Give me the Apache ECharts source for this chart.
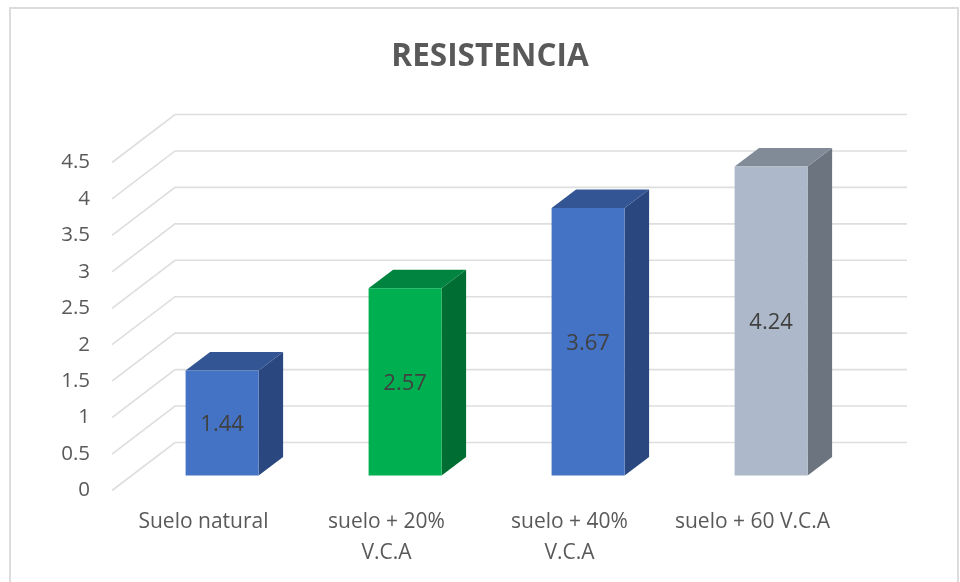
<!DOCTYPE html>
<html>
<head>
<meta charset="utf-8">
<style>html,body{margin:0;padding:0;background:#fff}#c{width:960px;height:582px}</style>
<script src="https://cdn.jsdelivr.net/npm/echarts@6/dist/echarts.min.js"></script>
</head>
<body>
<div id="c"></div>
<script>
const titleText = 'RESISTENCIA';
const categories = ['Suelo natural', 'suelo + 20%\nV.C.A', 'suelo + 40%\nV.C.A', 'suelo + 60 V.C.A'];
const values = [1.44, 2.57, 3.67, 4.24];
const frontColors = ['#4472C4', '#00B050', '#4472C4', '#ADB9CA'];
const topColors = ['#335593', '#008440', '#335593', '#818B97'];
const sideColors = ['#2A4780', '#006E32', '#2A4780', '#6C7480'];
const gridTicks = [0, 0.5, 1, 1.5, 2, 2.5, 3, 3.5, 4, 4.5];

const FONT = '"Open Sans", sans-serif';
const WALL = { dx: 63, dy: -48, front: 0 };
const BAR = { dx: 18.6, dy: -15, depthX: 24.5, depthY: -18.5, width: 73 };

function renderGrid(params, api) {
  const p = api.coord([0, api.value(1)]);
  const cs = params.coordSys;
  const y0 = p[1] + WALL.front;
  return {
    type: 'polyline',
    silent: true,
    shape: { points: [[cs.x, y0], [cs.x + WALL.dx, y0 + WALL.dy], [cs.x + cs.width + WALL.dx, y0 + WALL.dy]] },
    style: { fill: null, stroke: '#DEDEDE', lineWidth: 1.6 }
  };
}

function renderBar(params, api) {
  const i = api.value(0);
  const top = api.coord([i, api.value(1)]);
  const base = api.coord([i, 0]);
  const cx = top[0] + BAR.dx;
  const l = cx - BAR.width / 2, r = cx + BAR.width / 2;
  const t = top[1] + BAR.dy, b = base[1] + BAR.dy;
  const dx = BAR.depthX, dy = BAR.depthY;
  return {
    type: 'group',
    children: [
      { type: 'polygon', shape: { points: [[r, t], [r + dx, t + dy], [r + dx, b + dy], [r, b]] }, style: { fill: sideColors[i] } },
      { type: 'polygon', shape: { points: [[l, t], [l + dx, t + dy], [r + dx, t + dy], [r, t]] }, style: { fill: topColors[i] } },
      { type: 'rect', shape: { x: l, y: t, width: BAR.width, height: b - t }, style: { fill: frontColors[i] } },
      { type: 'text', x: cx, y: (t + b) / 2 + 2, style: { text: String(values[i]), x: 0, y: 0, align: 'center', verticalAlign: 'middle', fill: '#404040', font: '22px ' + FONT } }
    ]
  };
}

const chart = echarts.init(document.getElementById('c'), null, { renderer: 'canvas' });
chart.setOption({
  animation: false,
  backgroundColor: '#fff',
  title: {
    text: titleText, left: 485, top: 36, textAlign: 'center',
    textStyle: { color: '#595959', fontFamily: FONT, fontWeight: 'bold', fontSize: 31.5 }
  },
  graphic: [{
    type: 'rect', silent: true, z: -1,
    shape: { x: 10, y: 8, width: 948, height: 590 },
    style: { fill: null, stroke: '#DCDCDC', lineWidth: 2 }
  }],
  grid: { left: 112, right: 116, top: 162.5, bottom: 91.5, containLabel: false },
  xAxis: {
    type: 'category', data: categories,
    axisLine: { show: false }, axisTick: { show: false },
    axisLabel: { color: '#595959', fontFamily: FONT, fontSize: 21, margin: 16.5, lineHeight: 31, interval: 0 }
  },
  yAxis: {
    type: 'value', min: 0, max: 4.5, interval: 0.5,
    axisLine: { show: false }, axisTick: { show: false }, splitLine: { show: false },
    axisLabel: { color: '#595959', fontFamily: FONT, fontSize: 20.5, margin: 22 }
  },
  series: [
    { type: 'custom', coordinateSystem: 'cartesian2d', renderItem: renderGrid, clip: false, silent: true, z: 1,
      data: gridTicks.map(v => [0, v]), encode: { x: 0, y: 1 } },
    { type: 'custom', coordinateSystem: 'cartesian2d', renderItem: renderBar, clip: false, z: 2,
      data: values.map((v, i) => [i, v]), encode: { x: 0, y: 1 } }
  ]
});
</script>
</body>
</html>
